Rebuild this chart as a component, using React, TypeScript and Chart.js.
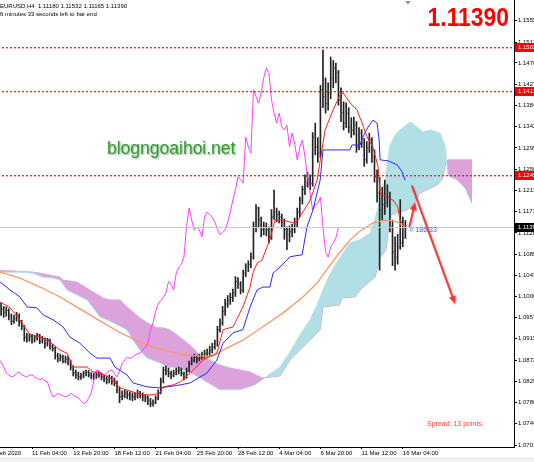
import React, { useEffect, useRef } from "react";
import { Chart, registerables } from "chart.js";

Chart.register(...registerables);

const FONT = '"Liberation Sans", Arial, sans-serif';
const OFFSET_X = 30; // the canvas starts 30px left of the page edge (left part of chart is cut off)

// ---------------- texts ----------------
const symbolHeader = "EURUSD,H4  1.11180 1.11532 1.11165 1.11390";
const timerHeader = "6 minutes 33 seconds left to bar end";
const bigPrice = "1.11390";
const watermark = "blogngoaihoi.net";
const spreadText = "Spread: 13 points.";
const barTimer = "< 186:33";

// ---------------- x axis (H4 bar index, 0 = 6 Feb 12:00) ----------------
const xTickBars = [0, 16, 32, 48, 64, 80, 96, 112, 128, 144, 160];
const xTickLabels = [
  "6 Feb 2020", "11 Feb 04:00", "13 Feb 20:00", "18 Feb 12:00", "21 Feb 04:00",
  "25 Feb 20:00", "28 Feb 12:00", "4 Mar 04:00", "6 Mar 20:00", "11 Mar 12:00", "16 Mar 04:00",
];
const yTickValues = [
  1.1555, 1.1512, 1.147, 1.1427, 1.1384, 1.1342, 1.1299, 1.1256, 1.1213, 1.1171, 1.1128,
  1.1085, 1.1043, 1.1, 1.0957, 1.0915, 1.0872, 1.0829, 1.0786, 1.0744, 1.0701,
];

// ---------------- candles (bars 4 .. 161) ----------------
const FIRST_BAR = 4;
const CHIKOU_SHIFT = 26;
const closes = [
  1.0975, 1.0968, 1.0972, 1.0960, 1.0950, 1.0955, 1.0962, 1.0948, 1.0940, 1.0918,
  1.0915, 1.0920, 1.0912, 1.0918, 1.0922, 1.0910, 1.0915, 1.0905, 1.0912, 1.0900,
  1.0895, 1.0880, 1.0875, 1.0878, 1.0870, 1.0874, 1.0868, 1.0858, 1.0846, 1.0842,
  1.0838, 1.0840, 1.0845, 1.0848, 1.0842, 1.0840, 1.0838, 1.0842, 1.0842, 1.0838,
  1.0835, 1.0832, 1.0835, 1.0830, 1.0828, 1.0812, 1.0798, 1.0800, 1.0805, 1.0802,
  1.0800, 1.0798, 1.0800, 1.0805, 1.0802, 1.0798, 1.0796, 1.0790, 1.0785, 1.0786,
  1.0795, 1.0806, 1.0830, 1.0852, 1.0850, 1.0845, 1.0842, 1.0846, 1.0850, 1.0852,
  1.0845, 1.0838, 1.0850, 1.0865, 1.0872, 1.0878, 1.0875, 1.0878, 1.0882, 1.0885,
  1.0886, 1.0892, 1.0898, 1.0905, 1.0933, 1.0947, 1.0970, 1.0985, 1.0992, 1.0998,
  1.1007, 1.1030, 1.1025, 1.1013, 1.1047, 1.1059, 1.1065, 1.1079, 1.1140, 1.1178,
  1.1154, 1.1134, 1.1140, 1.1134, 1.1120, 1.1160, 1.1170, 1.1165, 1.1160, 1.1150,
  1.1135, 1.1124, 1.1130, 1.1134, 1.1150, 1.1170, 1.1194, 1.1215, 1.1241, 1.1235,
  1.1228, 1.1321, 1.1301, 1.1289, 1.1416, 1.1402, 1.1389, 1.1410, 1.1440, 1.1460,
  1.1450, 1.1396, 1.1370, 1.1349, 1.1369, 1.1341, 1.1335, 1.1345, 1.1301, 1.1329,
  1.1309, 1.1275, 1.1300, 1.1315, 1.1281, 1.1241, 1.1208, 1.1174, 1.1185, 1.1188,
  1.1200, 1.1140, 1.1090, 1.1079, 1.1100, 1.1108, 1.1118, 1.1139,
];
const highs = [
  1.0987, 1.0980, 1.0979, 1.0975, 1.0965, 1.0962, 1.0968, 1.0965, 1.0952, 1.0942,
  1.0926, 1.0925, 1.0924, 1.0922, 1.0926, 1.0924, 1.0920, 1.0917, 1.0916, 1.0914,
  1.0904, 1.0898, 1.0886, 1.0884, 1.0882, 1.0880, 1.0880, 1.0872, 1.0860, 1.0852,
  1.0848, 1.0846, 1.0850, 1.0852, 1.0851, 1.0847, 1.0845, 1.0848, 1.0850, 1.0846,
  1.0842, 1.0840, 1.0842, 1.0840, 1.0836, 1.0830, 1.0818, 1.0810, 1.0812, 1.0810,
  1.0808, 1.0806, 1.0806, 1.0812, 1.0809, 1.0806, 1.0802, 1.0800, 1.0795, 1.0792,
  1.0800, 1.0812, 1.0836, 1.0858, 1.0860, 1.0856, 1.0850, 1.0852, 1.0856, 1.0858,
  1.0856, 1.0848, 1.0856, 1.0870, 1.0878, 1.0884, 1.0882, 1.0884, 1.0888, 1.0892,
  1.0894, 1.0900, 1.0906, 1.0912, 1.0940, 1.0955, 1.0980, 1.0995, 1.1002, 1.1007,
  1.1015, 1.1040, 1.1038, 1.1030, 1.1053, 1.1066, 1.1072, 1.1088, 1.1150, 1.1185,
  1.1180, 1.1160, 1.1150, 1.1148, 1.1140, 1.1175, 1.1214, 1.1178, 1.1172, 1.1166,
  1.1156, 1.1140, 1.1142, 1.1145, 1.1158, 1.1178, 1.1200, 1.1222, 1.1245, 1.1250,
  1.1245, 1.1330, 1.1349, 1.1320, 1.1425, 1.1496, 1.1440, 1.1430, 1.1482, 1.1475,
  1.1470, 1.1455, 1.1420, 1.1392, 1.1390, 1.1380, 1.1360, 1.1361, 1.1352, 1.1340,
  1.1336, 1.1318, 1.1312, 1.1329, 1.1320, 1.1295, 1.1255, 1.1240, 1.1220, 1.1234,
  1.1225, 1.1210, 1.1154, 1.1120, 1.1125, 1.1195, 1.1160, 1.1153,
];
const lows = [
  1.0962, 1.0958, 1.0960, 1.0953, 1.0943, 1.0946, 1.0950, 1.0940, 1.0933, 1.0910,
  1.0908, 1.0910, 1.0906, 1.0908, 1.0912, 1.0905, 1.0906, 1.0896, 1.0900, 1.0894,
  1.0890, 1.0874, 1.0868, 1.0870, 1.0866, 1.0866, 1.0862, 1.0852, 1.0840, 1.0835,
  1.0832, 1.0833, 1.0836, 1.0840, 1.0838, 1.0834, 1.0833, 1.0835, 1.0837, 1.0832,
  1.0828, 1.0824, 1.0826, 1.0823, 1.0820, 1.0806, 1.0786, 1.0792, 1.0796, 1.0794,
  1.0792, 1.0790, 1.0792, 1.0795, 1.0796, 1.0790, 1.0788, 1.0782, 1.0778, 1.0779,
  1.0784, 1.0792, 1.0804, 1.0826, 1.0842, 1.0838, 1.0834, 1.0838, 1.0842, 1.0844,
  1.0840, 1.0832, 1.0835, 1.0848, 1.0862, 1.0868, 1.0866, 1.0870, 1.0874, 1.0876,
  1.0878, 1.0880, 1.0886, 1.0894, 1.0900, 1.0928, 1.0942, 1.0962, 1.0978, 1.0984,
  1.0990, 1.1000, 1.1016, 1.1005, 1.1008, 1.1040, 1.1050, 1.1058, 1.1075, 1.1130,
  1.1140, 1.1120, 1.1124, 1.1122, 1.1108, 1.1115, 1.1155, 1.1150, 1.1148, 1.1138,
  1.1115, 1.1094, 1.1110, 1.1120, 1.1128, 1.1140, 1.1160, 1.1186, 1.1205, 1.1220,
  1.1215, 1.1222, 1.1285, 1.1270, 1.1280, 1.1380, 1.1369, 1.1375, 1.1398, 1.1420,
  1.1430, 1.1385, 1.1352, 1.1335, 1.1340, 1.1330, 1.1320, 1.1325, 1.1290, 1.1295,
  1.1300, 1.1262, 1.1268, 1.1290, 1.1270, 1.1230, 1.1190, 1.1053, 1.1154, 1.1165,
  1.1180, 1.1130, 1.1062, 1.1053, 1.1065, 1.1095, 1.1100, 1.1117,
];

// ---------------- indicator lines [bar, price] ----------------
const tenkan = [
  [3.6, 1.0989], [7.5, 1.0977], [11.3, 1.0953], [15.2, 1.0923], [19.1, 1.0918], [23.0, 1.0908],
  [26.9, 1.0892], [29.6, 1.0886], [31.9, 1.0858], [37.4, 1.0858], [39.7, 1.0848], [42.4, 1.0846],
  [46.3, 1.0836], [50.2, 1.0816], [55.2, 1.0808], [57.9, 1.0802], [63.0, 1.0802], [65.7, 1.0806],
  [66.9, 1.0818], [70.8, 1.0822], [73.5, 1.0828], [77.4, 1.0846], [82.4, 1.0872], [87.8, 1.0886],
  [90.2, 1.0933], [94.1, 1.0939], [97.9, 1.0979], [100.7, 1.1019], [101.8, 1.1047], [103.4, 1.1067],
  [105.3, 1.1073], [107.3, 1.1100], [108.4, 1.1114], [110.4, 1.1154], [113.5, 1.1154], [117.4, 1.1148],
  [119.3, 1.1154], [121.2, 1.1170], [124.0, 1.1194], [126.7, 1.1234], [128.6, 1.1295], [129.8, 1.1335],
  [132.9, 1.1375], [135.6, 1.1406], [136.8, 1.1410], [139.5, 1.1390], [142.2, 1.1375], [144.2, 1.1349],
  [146.1, 1.1321], [148.4, 1.1301], [150.4, 1.1261], [151.2, 1.1208], [153.9, 1.1200], [156.2, 1.1194],
  [158.1, 1.1180], [158.9, 1.1154], [160.9, 1.1138],
];
const kijun = [
  [3.6, 1.1029], [7.5, 1.1013], [11.3, 1.0999], [14.1, 1.0979], [17.9, 1.0977], [20.3, 1.0963],
  [24.2, 1.0953], [28.0, 1.0939], [30.8, 1.0918], [34.6, 1.0906], [38.5, 1.0886], [41.2, 1.0876],
  [46.3, 1.0876], [48.2, 1.0858], [52.9, 1.0842], [55.2, 1.0826], [60.7, 1.0818], [65.7, 1.0816],
  [68.4, 1.0818], [73.5, 1.0822], [77.4, 1.0826], [83.9, 1.0846], [87.8, 1.0872], [90.2, 1.0906],
  [94.1, 1.0927], [97.9, 1.0933], [100.7, 1.0979], [103.4, 1.1013], [105.7, 1.1019], [108.4, 1.1019],
  [109.6, 1.1047], [112.3, 1.1059], [115.0, 1.1073], [116.2, 1.1080], [120.9, 1.1084], [122.8, 1.1140],
  [125.1, 1.1174], [127.9, 1.1234], [129.0, 1.1295], [139.5, 1.1295], [140.3, 1.1305], [143.4, 1.1305],
  [144.5, 1.1321], [146.5, 1.1341], [148.4, 1.1355], [150.0, 1.1349], [150.8, 1.1315], [151.2, 1.1275],
  [154.3, 1.1273], [157.8, 1.1265], [159.7, 1.1251], [160.9, 1.1234],
];
const movingAverage = [
  [3.6, 1.1049], [11.3, 1.1037], [19.1, 1.1019], [26.9, 1.0999], [34.6, 1.0975], [42.4, 1.0951],
  [50.2, 1.0927], [57.9, 1.0908], [65.7, 1.0894], [73.5, 1.0884], [81.2, 1.0880], [86.3, 1.0880],
  [90.2, 1.0892], [97.9, 1.0912], [105.7, 1.0939], [113.5, 1.0967], [121.2, 1.0999], [126.7, 1.1027],
  [130.6, 1.1055], [134.5, 1.1082], [139.5, 1.1114], [143.4, 1.1132], [148.4, 1.1148], [153.9, 1.1154],
  [157.8, 1.1150], [160.9, 1.1140],
];
const senkouA = [
  [3.5, 1.1049], [11.3, 1.1049], [16.4, 1.1047], [20.3, 1.1039], [24.2, 1.1037], [26.9, 1.1033],
  [29.6, 1.1013], [37.4, 1.0993], [42.4, 1.0959], [47.5, 1.0947], [52.9, 1.0933], [55.2, 1.0912],
  [57.9, 1.0892], [60.7, 1.0876], [65.7, 1.0866], [68.4, 1.0858], [73.5, 1.0856], [77.4, 1.0846],
  [81.2, 1.0836], [89.0, 1.0812], [96.8, 1.0812], [102.6, 1.0822], [105.3, 1.0832], [108.4, 1.0844],
  [112.3, 1.0858], [116.2, 1.0888], [120.1, 1.0923], [124.0, 1.0953], [126.7, 1.0983], [129.0, 1.1013],
  [131.7, 1.1045], [135.6, 1.1078], [139.5, 1.1108], [143.4, 1.1114], [147.3, 1.1128], [149.2, 1.1156],
  [151.2, 1.1194], [153.1, 1.1235], [155.0, 1.1303], [157.0, 1.1325], [158.9, 1.1335], [162.8, 1.1351],
  [165.5, 1.1341], [167.9, 1.1331], [170.6, 1.1335], [174.5, 1.1329], [176.4, 1.1303], [177.6, 1.1243],
  [181.0, 1.1235], [184.2, 1.1218], [186.9, 1.1186],
];
const senkouB = [
  [3.5, 1.1053], [16.4, 1.1049], [19.1, 1.1047], [23.0, 1.1043], [26.9, 1.1039], [28.0, 1.1033],
  [33.5, 1.1029], [38.5, 1.1013], [43.6, 1.0997], [46.3, 1.0993], [50.2, 1.0993], [52.9, 1.0979],
  [57.9, 1.0957], [60.7, 1.0947], [64.5, 1.0937], [66.9, 1.0937], [69.6, 1.0933], [73.5, 1.0918],
  [77.4, 1.0902], [81.2, 1.0882], [85.1, 1.0872], [89.0, 1.0862], [92.9, 1.0856], [96.8, 1.0852],
  [100.7, 1.0848], [105.3, 1.0836], [112.3, 1.0840], [116.2, 1.0872], [120.1, 1.0892], [124.0, 1.0912],
  [127.9, 1.0933], [129.0, 1.0979], [135.6, 1.0983], [136.4, 1.0997], [141.4, 1.0999], [144.2, 1.1017],
  [149.2, 1.1039], [151.2, 1.1078], [153.5, 1.1094], [154.3, 1.1130], [155.4, 1.1164], [158.9, 1.1170],
  [161.6, 1.1174], [164.0, 1.1184], [166.7, 1.1208], [170.6, 1.1218], [173.3, 1.1224], [175.2, 1.1235],
  [176.8, 1.1271], [177.6, 1.1275], [186.9, 1.1275],
];

// ---------------- horizontal levels / annotations ----------------
const levelLines = [1.1502, 1.1413, 1.1245];
const currentPrice = 1.1139;
const arrows = [
  { from: [162.6, 1.1142], to: [164.8, 1.119] },
  { from: [163.6, 1.1222], to: [180.3, 1.0985] },
];
const chartShiftBar = 162;
const lastBar = 161;

// ---------------- view range ----------------
const X_MIN = -8.08;
const X_MAX = 203.18;
const Y_MIN = 1.0697;
const Y_MAX = 1.15968;

const C_TENKAN = "rgb(255,30,30)";
const C_KIJUN = "rgb(40,40,255)";
const C_CHIKOU = "rgb(255,60,255)";
const C_MA = "rgb(255,150,100)";
const C_CLOUD_UP = "rgb(176,223,229)";
const C_CLOUD_DOWN = "rgb(220,162,220)";
const C_LEVEL = "#ff0000";

function drawArrow(ctx: CanvasRenderingContext2D, x1: number, y1: number, x2: number, y2: number) {
  const ang = Math.atan2(y2 - y1, x2 - x1);
  const head = 8;
  const hw = 3.5;
  ctx.save();
  ctx.strokeStyle = "rgba(250,50,50,0.95)";
  ctx.fillStyle = "rgba(250,50,50,0.95)";
  ctx.shadowColor = "rgba(0,0,0,0.25)";
  ctx.shadowBlur = 2;
  ctx.shadowOffsetX = 1;
  ctx.shadowOffsetY = 1;
  ctx.lineWidth = 2;
  ctx.lineCap = "round";
  ctx.beginPath();
  ctx.moveTo(x1, y1);
  ctx.lineTo(x2 - head * 0.7 * Math.cos(ang), y2 - head * 0.7 * Math.sin(ang));
  ctx.stroke();
  const bx = x2 - head * Math.cos(ang);
  const by = y2 - head * Math.sin(ang);
  ctx.beginPath();
  ctx.moveTo(x2, y2);
  ctx.lineTo(bx + hw * Math.sin(ang), by - hw * Math.cos(ang));
  ctx.lineTo(bx - hw * Math.sin(ang), by + hw * Math.cos(ang));
  ctx.closePath();
  ctx.fill();
  ctx.restore();
}

const overlayPlugin = {
  id: "mt4overlay",
  afterDatasetsDraw(chart: any) {
    const { ctx, chartArea: a, scales } = chart;
    const xs = scales.x;
    const ys = scales.y;
    ctx.save();
    ctx.beginPath();
    ctx.rect(a.left, a.top, a.right - a.left, a.bottom - a.top);
    ctx.clip();
    // current price line
    const cy = Math.round(ys.getPixelForValue(currentPrice));
    ctx.fillStyle = "rgb(200,200,200)";
    ctx.fillRect(a.left, cy, a.right - a.left, 1);
    // dotted red levels (soft dashes like the scaled screenshot)
    levelLines.forEach((v) => {
      const y = Math.round(ys.getPixelForValue(v));
      for (let px = Math.floor(a.left); px < a.right; px += 4) {
        ctx.fillStyle = "rgba(255,0,0,0.85)";
        ctx.fillRect(px, y, 2, 1);
        ctx.fillStyle = "rgba(255,0,0,0.3)";
        ctx.fillRect(px, y + 1, 2, 1);
      }
    });
    // arrows
    arrows.forEach((ar) =>
      drawArrow(
        ctx,
        xs.getPixelForValue(ar.from[0]),
        ys.getPixelForValue(ar.from[1]),
        xs.getPixelForValue(ar.to[0]),
        ys.getPixelForValue(ar.to[1])
      )
    );
    // bar timer
    ctx.fillStyle = "rgb(80,80,255)";
    ctx.font = `7px ${FONT}`;
    ctx.textBaseline = "middle";
    ctx.textAlign = "left";
    ctx.fillText(barTimer, xs.getPixelForValue(lastBar) + 4, ys.getPixelForValue(currentPrice) + 3);
    ctx.restore();
  },
  afterDraw(chart: any) {
    const { ctx, chartArea: a, scales } = chart;
    const xs = scales.x;
    const ys = scales.y;
    ctx.save();
    // header texts
    ctx.fillStyle = "#000";
    ctx.font = `6px ${FONT}`;
    ctx.textAlign = "left";
    ctx.textBaseline = "middle";
    ctx.fillText(symbolHeader, OFFSET_X, 6);
    ctx.fillText(timerHeader, OFFSET_X, 14.5);
    // big price
    ctx.save();
    ctx.translate(OFFSET_X + 509, 26);
    ctx.scale(0.88, 1);
    ctx.fillStyle = "rgb(255,0,0)";
    ctx.font = `bold 26px ${FONT}`;
    ctx.textAlign = "right";
    ctx.textBaseline = "alphabetic";
    ctx.fillText(bigPrice, 0, 0);
    ctx.restore();
    // watermark
    ctx.save();
    ctx.font = `17.5px ${FONT}`;
    ctx.fillStyle = "rgb(48,158,48)";
    ctx.shadowColor = "rgba(0,50,0,0.45)";
    ctx.shadowBlur = 2;
    ctx.shadowOffsetX = 1;
    ctx.shadowOffsetY = 1;
    ctx.textAlign = "left";
    ctx.textBaseline = "alphabetic";
    ctx.fillText(watermark, OFFSET_X + 107, 154);
    ctx.restore();
    // spread
    ctx.fillStyle = "rgb(255,60,60)";
    ctx.font = `7px ${FONT}`;
    ctx.textBaseline = "middle";
    ctx.textAlign = "left";
    ctx.fillText(spreadText, OFFSET_X + 427, 424);
    // chart shift marker
    const sx = xs.getPixelForValue(chartShiftBar);
    ctx.fillStyle = "rgb(150,150,150)";
    ctx.beginPath();
    ctx.moveTo(sx - 3, 1);
    ctx.lineTo(sx + 3, 1);
    ctx.lineTo(sx, 4.5);
    ctx.closePath();
    ctx.fill();
    // price boxes on the axis
    const box = (v: number, bg: string) => {
      const py = Math.round(ys.getPixelForValue(v));
      ctx.fillStyle = bg;
      ctx.fillRect(a.right + 1, py - 4, chart.width - a.right - 1, 9);
      ctx.fillStyle = "#fff";
      ctx.font = `6px ${FONT}`;
      ctx.textAlign = "left";
      ctx.textBaseline = "middle";
      ctx.fillText(v.toFixed(4), a.right + 4, py + 0.5);
    };
    levelLines.forEach((v) => box(v, C_LEVEL));
    box(currentPrice, "#000");
    // bottom grey strip
    ctx.fillStyle = "rgb(240,240,240)";
    ctx.fillRect(0, 457, chart.width, chart.height - 457);
    ctx.restore();
  },
};

export default function App() {
  const ref = useRef<HTMLCanvasElement | null>(null);

  useEffect(() => {
    const canvas = ref.current;
    if (!canvas) return;
    const bars = closes.map((_, k) => FIRST_BAR + k);
    const toPts = (arr: number[][]) => arr.map(([x, y]) => ({ x, y }));

    const datasets: any[] = [
      {
        type: "line",
        label: "Senkou B",
        data: toPts(senkouB),
        borderColor: C_CLOUD_DOWN,
        borderWidth: 1,
        pointRadius: 0,
        fill: false,
        order: 10,
      },
      {
        type: "line",
        label: "Senkou A",
        data: toPts(senkouA),
        borderColor: C_CLOUD_UP,
        borderWidth: 1,
        pointRadius: 0,
        fill: { target: 0, above: C_CLOUD_UP, below: C_CLOUD_DOWN },
        order: 9,
      },
      {
        type: "bar",
        label: "Bars",
        data: bars.map((b, k) => ({ x: b, y: [lows[k], highs[k]] })),
        backgroundColor: "rgb(35,35,35)",
        borderWidth: 0,
        barThickness: 1,
        order: 8,
      },
      {
        type: "line",
        label: "Close",
        data: bars.map((b, k) => ({ x: b + 0.4, y: closes[k] })),
        showLine: false,
        pointStyle: "line",
        pointRadius: 0.5,
        pointBorderWidth: 1,
        pointBorderColor: "rgb(60,60,60)",
        order: 7,
      },
      {
        type: "line",
        label: "MA",
        data: toPts(movingAverage),
        borderColor: C_MA,
        borderWidth: 1.3,
        pointRadius: 0,
        fill: false,
        order: 6,
      },
      {
        type: "line",
        label: "Chikou",
        data: bars.map((b, k) => ({ x: b - CHIKOU_SHIFT, y: closes[k] })),
        borderColor: C_CHIKOU,
        borderWidth: 1,
        pointRadius: 0,
        fill: false,
        order: 5,
      },
      {
        type: "line",
        label: "Kijun",
        data: toPts(kijun),
        borderColor: C_KIJUN,
        borderWidth: 1,
        pointRadius: 0,
        fill: false,
        order: 4,
      },
      {
        type: "line",
        label: "Tenkan",
        data: toPts(tenkan),
        borderColor: C_TENKAN,
        borderWidth: 1,
        pointRadius: 0,
        fill: false,
        order: 3,
      },
    ];

    const chart = new Chart(canvas, {
      type: "line",
      data: { datasets },
      options: {
        responsive: false,
        animation: false,
        events: [],
        layout: { padding: 0, autoPadding: false },
        plugins: { legend: { display: false }, tooltip: { enabled: false } },
        elements: { line: { tension: 0 } },
        scales: {
          x: {
            type: "linear",
            position: "bottom",
            min: X_MIN,
            max: X_MAX,
            offset: false,
            grid: { drawOnChartArea: false, drawTicks: true, tickLength: 2, color: "#000", offset: false },
            border: { display: true, color: "#000", width: 1 },
            ticks: {
              autoSkip: false,
              maxRotation: 0,
              minRotation: 0,
              align: "start",
              padding: 1,
              color: "#000",
              font: { family: FONT, size: 6 },
              callback: (_v: any, i: number) => xTickLabels[i] ?? "",
            },
            afterBuildTicks: (s: any) => {
              s.ticks = xTickBars.map((v) => ({ value: v }));
            },
            afterFit: (s: any) => {
              s.height = 15;
              s.paddingLeft = 0;
              s.paddingRight = 0;
            },
          },
          y: {
            type: "linear",
            position: "right",
            min: Y_MIN,
            max: Y_MAX,
            grid: { drawOnChartArea: false, drawTicks: true, tickLength: 3, color: "#000" },
            border: { display: true, color: "#000", width: 1 },
            ticks: {
              autoSkip: false,
              padding: 1,
              color: "#000",
              font: { family: FONT, size: 6 },
              callback: (v: any) => Number(v).toFixed(4),
            },
            afterBuildTicks: (s: any) => {
              s.ticks = yTickValues.map((v) => ({ value: v }));
            },
            afterFit: (s: any) => {
              s.width = 20;
              s.paddingTop = 0;
              s.paddingBottom = 0;
            },
          },
        },
      } as any,
      plugins: [overlayPlugin as any],
    });
    return () => chart.destroy();
  }, []);

  return (
    <div
      style={{
        position: "fixed",
        left: -OFFSET_X,
        top: 0,
        width: 534 + OFFSET_X,
        height: 462,
        background: "#fff",
      }}
    >
      <canvas ref={ref} width={534 + OFFSET_X} height={462} style={{ display: "block" }} />
    </div>
  );
}
